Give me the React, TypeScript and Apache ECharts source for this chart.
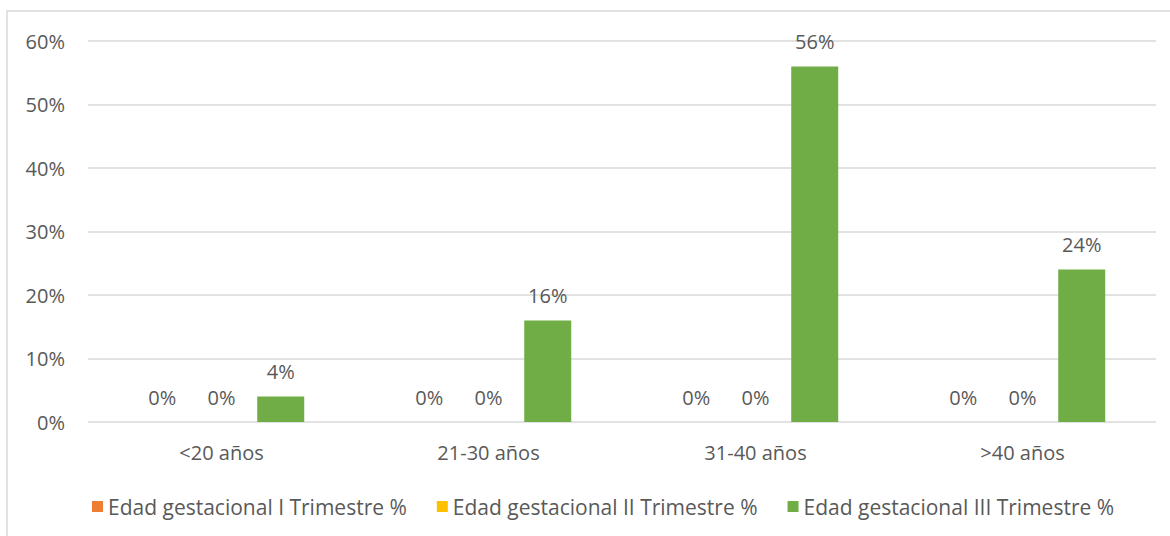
import React, { useEffect, useRef } from "react";
import * as echarts from "echarts";

const categories = ["<20 años", "21-30 años", "31-40 años", ">40 años"];
const seriesNames = [
  "Edad gestacional I Trimestre %",
  "Edad gestacional II Trimestre %",
  "Edad gestacional III Trimestre %",
];
const trimestreI = [0, 0, 0, 0];
const trimestreII = [0, 0, 0, 0];
const trimestreIII = [4, 16, 56, 24];
const colors = ["#ED7D31", "#FFC000", "#70AD47"];

const FONT = "Open Sans";
const TXT = "#595959";
const FS = 20;

export default function App() {
  const ref = useRef<HTMLDivElement>(null);
  useEffect(() => {
    if (!ref.current) return;
    const chart = echarts.init(ref.current, null, { renderer: "svg" });
    const values = [trimestreI, trimestreII, trimestreIII];
    chart.setOption({
      animation: false,
      backgroundColor: "#ffffff",
      textStyle: { fontFamily: FONT },
      graphic: [
        {
          type: "rect",
          shape: { x: 7, y: 11, width: 1300, height: 700 },
          style: { fill: "none", stroke: "#D9D9D9", lineWidth: 1.5 },
          silent: true,
        },
      ],
      grid: { left: 88, right: 14, top: 41, height: 381, containLabel: false },
      legend: {
        left: 87,
        top: 491,
        icon: "rect",
        itemWidth: 11,
        itemHeight: 11,
        itemGap: 30,
        textStyle: { color: TXT, fontSize: 21, fontFamily: FONT },
        data: seriesNames,
      },
      xAxis: {
        type: "category",
        data: categories,
        axisLine: { show: false },
        axisTick: { show: false },
        axisLabel: { color: TXT, fontSize: FS, margin: 20, fontFamily: FONT },
      },
      yAxis: {
        type: "value",
        min: 0,
        max: 60,
        interval: 10,
        axisLine: { show: false },
        axisTick: { show: false },
        splitLine: { lineStyle: { color: "#D9D9D9", width: 1.5 } },
        axisLabel: {
          color: TXT,
          fontSize: FS,
          margin: 23,
          fontFamily: FONT,
          formatter: (v: number) => v + "%",
        },
      },
      series: seriesNames.map((name, i) => ({
        name,
        type: "bar",
        data: values[i],
        barWidth: 47,
        barGap: "26%",
        itemStyle: { color: colors[i] },
        label: {
          show: true,
          position: "top",
          distance: 15,
          color: TXT,
          fontSize: FS,
          fontFamily: FONT,
          formatter: (p: any) => p.value + "%",
        },
      })),
    });
    return () => chart.dispose();
  }, []);
  return (
    <div
      ref={ref}
      style={{ position: "fixed", left: 0, top: 0, width: 1170, height: 536 }}
    />
  );
}
